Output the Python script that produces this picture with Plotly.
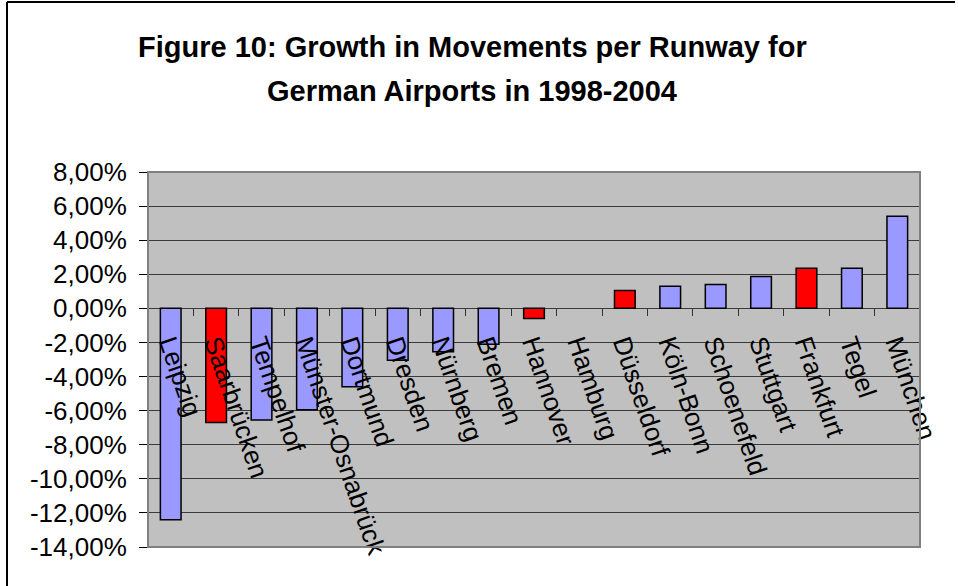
import plotly.graph_objects as go

airports = ["Leipzig", "Saarbrücken", "Tempelhof", "Münster-Osnabrück", "Dortmund",
            "Dresden", "Nürnberg", "Bremen", "Hannover", "Hamburg", "Düsseldorf",
            "Köln-Bonn", "Schoenefeld", "Stuttgart", "Frankfurt", "Tegel", "München"]
growth_pct = [-12.4, -6.7, -6.55, -5.95, -4.6, -3.05, -2.55, -2.1, -0.6, 0.0, 1.05,
              1.3, 1.4, 1.87, 2.35, 2.35, 5.4]
highlighted = ["Saarbrücken", "Hannover", "Düsseldorf", "Frankfurt"]
y_tickvals = [8, 6, 4, 2, 0, -2, -4, -6, -8, -10, -12, -14]
y_ticktext = ["8,00%", "6,00%", "4,00%", "2,00%", "0,00%", "-2,00%", "-4,00%",
              "-6,00%", "-8,00%", "-10,00%", "-12,00%", "-14,00%"]
title_lines = ["Figure 10: Growth in Movements per Runway for",
               "German Airports in 1998-2004"]

W, H = 958, 586
L, R, T, B = 148, 38, 172, 39
PW, PH = W - L - R, H - T - B
ymin, ymax = -14, 8

def px_x(p):
    return (p - L) / PW

def px_y(p):
    return (H - B - p) / PH

colors = ["#FF0000" if a in highlighted else "#9999FF" for a in airports]
line_widths = [0 if v == 0 else 1.5 for v in growth_pct]
FONT = "Liberation Sans, Arial, sans-serif"

fig = go.Figure(go.Bar(
    x=airports, y=growth_pct,
    marker=dict(color=colors, line=dict(color="black", width=line_widths)),
))

fig.update_layout(
    width=W, height=H,
    margin=dict(l=L, r=R, t=T, b=B, pad=0),
    paper_bgcolor="white", plot_bgcolor="#C0C0C0",
    bargap=0.545, showlegend=False,
    font=dict(family=FONT, color="black"),
    xaxis=dict(type="category", anchor="free", position=(0 - ymin) / (ymax - ymin),
               tickangle=71, ticks="outside", ticklen=7, tickcolor="#333333",
               tickson="boundaries", showgrid=False, showline=False,
               tickfont=dict(size=26, family=FONT, color="black"),
               ticklabelstandoff=14),
    yaxis=dict(range=[ymin, ymax], tickvals=y_tickvals, ticktext=y_ticktext,
               ticks="outside", ticklen=8, tickcolor="black",
               showline=True, linecolor="black", linewidth=1,
               showgrid=True, gridcolor="#3a3a3a", gridwidth=1,
               zeroline=True, zerolinecolor="#3a3a3a", zerolinewidth=1,
               tickfont=dict(size=26, family=FONT, color="black"),
               ticklabelstandoff=7),
    shapes=[
        dict(type="rect", xref="paper", yref="paper", x0=0, x1=1, y0=0, y1=1,
             line=dict(color="#808080", width=2), layer="above"),
        dict(type="line", xref="paper", yref="paper",
             x0=px_x(7), x1=px_x(7), y0=px_y(H), y1=px_y(2),
             line=dict(color="black", width=2)),
        dict(type="line", xref="paper", yref="paper",
             x0=px_x(7), x1=px_x(955), y0=px_y(2), y1=px_y(2),
             line=dict(color="black", width=2)),
    ],
    annotations=[
        dict(text=title_lines[0], xref="paper", yref="paper", x=px_x(472), y=px_y(47),
             xanchor="center", yanchor="middle", showarrow=False,
             font=dict(size=29, family=FONT, color="black", weight="bold")),
        dict(text=title_lines[1], xref="paper", yref="paper", x=px_x(472), y=px_y(91),
             xanchor="center", yanchor="middle", showarrow=False,
             font=dict(size=29, family=FONT, color="black", weight="bold")),
    ],
)

fig.write_html("out.html")
